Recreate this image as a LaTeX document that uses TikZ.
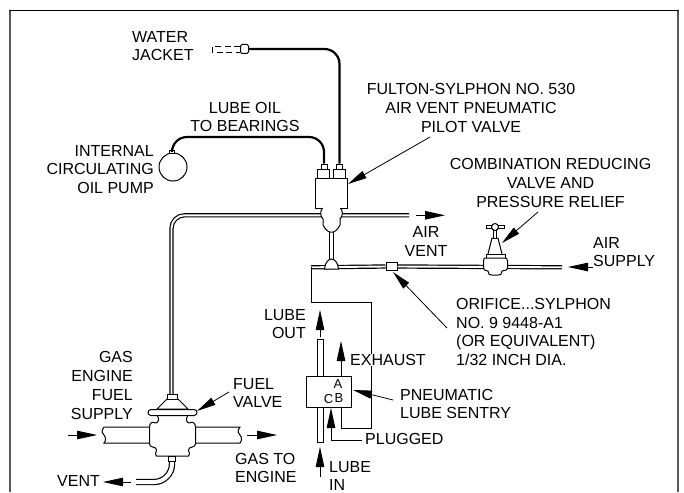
\documentclass[tikz,border=0pt]{standalone}
\usepackage{fontspec}
\setmainfont{Liberation Sans}
\usetikzlibrary{arrows.meta}
\tikzset{
  lbl/.style={font=\fontsize{16}{18.7}\selectfont,inner sep=0pt},
  part/.style={draw,fill=white,line width=1pt},
  oilline/.style={line width=2.2pt,rounded corners=15pt},
  airpipe/.style={line width=1.2pt,double,double distance=1.9pt,rounded corners=13pt},
  thinline/.style={line width=1pt},
  leader/.style={line width=.8pt,-{Triangle[length=19pt,width=8pt]}},
  flow/.style={line width=.8pt,-{Triangle[length=20pt,width=8.5pt]}},
}
\begin{document}
\begin{tikzpicture}[x=1pt,y=-1pt]
  \useasboundingbox (0,0) rectangle (684,492);
  % frame
  \draw[line width=2pt,black!65] (9.5,10.5) -- (9.5,492);
  \draw[line width=2pt,black!65] (678,10.5) -- (678,492);
  \draw[line width=1.2pt] (9,10.5) -- (679,10.5);

  % points on the pipes
  \coordinate (tee)     at (331.5,215.3);
  \coordinate (ventend) at (409,215.3);
  \coordinate (neck)    at (171.5,394);
  \coordinate (teeout)  at (331.5,232);
  \coordinate (dome)    at (331.5,267.3);
  \coordinate (lineend) at (311,267.3);
  \coordinate (supply)  at (562,267.3);
  \coordinate (corner)  at (371,302);
  \coordinate (portb)   at (341,407);
  \coordinate (portc)   at (331,408);
  \coordinate (ventout) at (136,482);
  \coordinate (ventbox) at (172,461);

  % equipment
  \node[part,minimum width=32pt,minimum height=30pt,inner sep=0pt] (pilot)  at (331,193) {};
  \node[part,circle,minimum size=28pt,inner sep=0pt]               (pump)   at (173,167) {};
  \node[part,minimum width=11pt,minimum height=8pt,inner sep=0pt]  (orifice) at (391.5,266.5) {};
  \node[part,minimum width=6pt,minimum height=103pt,inner sep=0pt] (tube)   at (320,390.5) {};
  \node[part,minimum width=45pt,minimum height=31pt,inner sep=0pt] (sentry) at (328.5,391.5) {};
  \node[part,minimum width=12pt,minimum height=9pt,inner sep=0pt]  (pilotl) at (323.3,173.5) {};
  \node[part,minimum width=12pt,minimum height=9pt,inner sep=0pt]  (pilotr) at (339.2,173.5) {};
  \node[part,minimum width=6pt,minimum height=5pt,inner sep=0pt]   (nutl)   at (324,166.5) {};
  \node[part,minimum width=6pt,minimum height=5pt,inner sep=0pt]   (nutr)   at (339.5,166.5) {};
  \node[part,minimum width=5pt,minimum height=3pt,inner sep=0pt]   (pumpnut) at (172,151.5) {};
  \node[part,minimum width=8pt,minimum height=9pt,inner sep=0pt,rounded corners=1.5pt] (jacket) at (244.5,49) {};

  % lines
  \draw[oilline] (jacket.east) -| (nutr.north);
  \draw[oilline] (pumpnut.north) |- (233,137) -| (nutl.north);
  \draw[airpipe] (neck) |- (tee) -- (ventend);
  \draw[line width=1pt,double,double distance=3.2pt] (teeout) -- (dome);
  \draw[airpipe] (lineend) -- (orifice.west);
  \draw[airpipe] (orifice.east) -- (supply);
  \draw[airpipe,double distance=4pt,rounded corners=18pt] (ventbox) |- (ventout);
  \draw[thinline] (lineend) -- (311,302) -- (corner) |- (portb |- 0,428) -- (portb);
  \draw[line width=.8pt,dash pattern=on 6pt off 3.5pt] (240,46.5) -- (212,46.5) -- (212,52) -- (240,52);

  % tee under the pilot valve
  \draw[part] (322.5,208) .. controls (320,211) and (320,216) .. (323,219) -- (323,225)
    .. controls (325,229) and (328,232) .. (330,232) -- (333,232)
    .. controls (335,232) and (338,229) .. (340,225) -- (340,219)
    .. controls (343,216) and (343,211) .. (340.5,208);
  \draw[part] (324.5,269) .. controls (325,262) and (329,259) .. (331.5,259)
    .. controls (334,259) and (338,262) .. (338.5,269) -- cycle;

  % reducing valve
  \draw[part] (488,254) -- (492,238) -- (498,238) -- (502,254);
  \draw[part] (486,254) rectangle (505,258);
  \draw[part] (486,258) -- (504,258) .. controls (507,258) .. (507.5,261) -- (507.5,268)
    .. controls (507,270) .. (502,271) .. controls (501,275) .. (498,275) -- (492,275)
    .. controls (489,275) .. (488,271) .. controls (484,270) .. (483.5,268) -- (483.5,261)
    .. controls (484,258) .. (486,258) -- cycle;
  \draw[part] (493.3,230) rectangle (496.7,238);
  \draw[part] (486,225.5) rectangle (504,228.5);
  \node[part,circle,minimum size=7pt,inner sep=0pt] (knob) at (495,227) {};

  % fuel valve
  \draw[part] (104,427) .. controls (101,431) and (102,434) .. (104,435)
    .. controls (106,437) and (106,441) .. (104,443) -- (151,443) -- (151,427) -- cycle;
  \draw[part] (240,427) .. controls (237,431) and (238,434) .. (240,435)
    .. controls (242,437) and (242,441) .. (240,443) -- (195,443) -- (195,427) -- cycle;
  \fill[white] (150,418) rectangle (195,456);
  \foreach \s in {1,-1}{
    \draw[line width=1pt,shift={(172.5,0)},xscale=\s,line join=round]
      (-15,416) .. controls (-13,419) and (-14,423) .. (-17,423)
      .. controls (-20,421) and (-23,423) .. (-23,427) -- (-23,444)
      .. controls (-22,448) and (-19,446) .. (-17,448)
      .. controls (-14,451) and (-19,453) .. (-16,456) -- (0,456);
  }
  \draw[part] (167,399) -- (157,409) -- (188,409) -- (178,399) -- cycle;
  \draw[part] (167,394) rectangle (177,399);
  \draw[part,rounded corners=3pt] (148,409.5) rectangle (197,415.5);
  \draw[part] (168.5,456) rectangle (175.5,461);

  % labels
  \node[lbl,anchor=west,align=left] (water) at (132,46) {WATER\\JACKET};
  \node[lbl,align=center] (oil) at (245,117) {LUBE OIL\\TO BEARINGS};
  \node[lbl,anchor=east,align=right] (pumptxt) at (154,169.5) {INTERNAL\\CIRCULATING\\OIL PUMP};
  \node[lbl,align=center] (fulton) at (471,108) {FULTON-SYLPHON NO. 530\\AIR VENT PNEUMATIC\\PILOT VALVE};
  \node[lbl,align=center] (combi) at (550.5,183) {COMBINATION REDUCING\\VALVE AND\\PRESSURE RELIEF};
  \node[lbl,align=center] (vent) at (426,241.5) {AIR\\VENT};
  \node[lbl,anchor=west,align=left] (airsup) at (593,252) {AIR\\SUPPLY};
  \node[lbl,anchor=west,align=left] (sylphon) at (456,332) {ORIFICE...SYLPHON\\NO. 9 9448-A1\\(OR EQUIVALENT)\\1/32 INCH DIA.};
  \node[lbl,anchor=east,align=right] (out) at (306,324) {LUBE\\OUT};
  \node[lbl,anchor=west,fill=white] (exhaust) at (350,360) {EXHAUST};
  \node[lbl,anchor=west,align=left] (sentrytxt) at (400,404) {PNEUMATIC\\LUBE SENTRY};
  \node[lbl,anchor=west] (plugged) at (365,439) {PLUGGED};
  \node[lbl,anchor=west,align=left] (in) at (329,476) {LUBE\\IN};
  \node[lbl,anchor=east,align=right] (gas) at (133,385.5) {GAS\\ENGINE\\FUEL\\SUPPLY};
  \node[lbl,anchor=west,align=left] (fuel) at (233,393) {FUEL\\VALVE};
  \node[lbl,anchor=west,align=left] (toengine) at (235,468) {GAS TO\\ENGINE};
  \node[lbl,anchor=west] (venttxt) at (57,481) {VENT};
  \node[lbl,font=\fontsize{13}{14}\selectfont] (porta) at (338,384) {A};
  \node[lbl,font=\fontsize{13}{14}\selectfont] (portB) at (339,398.5) {B};
  \node[lbl,font=\fontsize{13}{14}\selectfont] (portC) at (328.5,399) {C};

  % arrows
  \draw[leader] (430,137) -- (348,184);
  \draw[leader] (538,212) -- (502,243);
  \draw[leader] (447,328) -- (393,272);
  \draw[leader] (393,400) -- (353,390);
  \draw[leader] (229,392) -- (197,411);
  \draw[flow] (416,215.3) -- (445,215.3);
  \draw[flow] (593,267) -- (568,267);
  \draw[flow] (320,337) -- (320,310);
  \draw[flow] (341,376) -- (341,341);
  \draw[flow] (362,440) -| (portc);
  \draw[flow] (320,477) -- (320,447);
  \draw[flow] (68,435) -- (97,435);
  \draw[flow] (247,435) -- (277,435);
  \draw[flow] (131,482) -- (103,482);
\end{tikzpicture}
\end{document}
